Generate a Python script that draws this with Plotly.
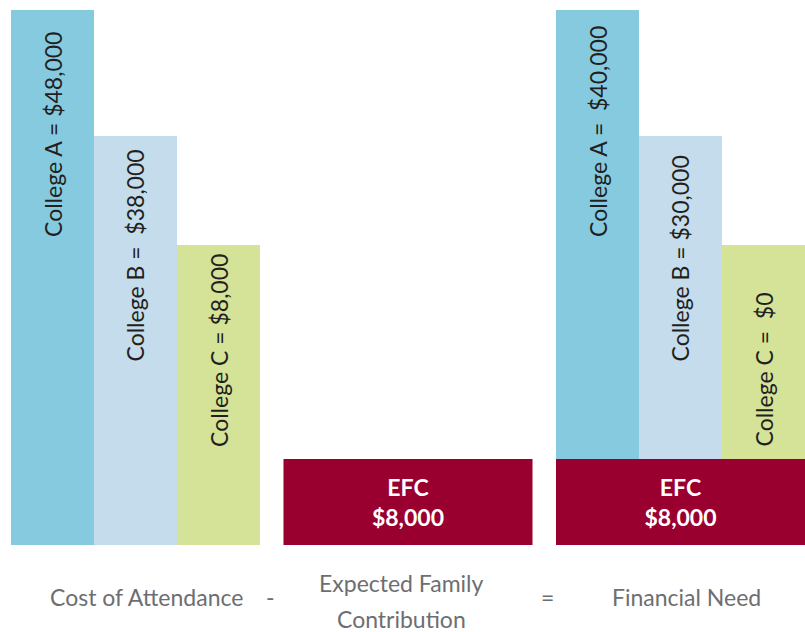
import plotly.graph_objects as go

# ---- data ----
groups = ["Cost of Attendance", "Expected Family<br>Contribution", "Financial Need"]
operators = ["-", "="]
colleges = ["College A", "College B", "College C"]
cost_text = ["College A = $48,000", "College B =\u00a0 $38,000", "College C = $8,000"]
need_text = ["College A =\u00a0 $40,000", "College B = $30,000", "College C =\u00a0 $0"]
efc_text = "EFC<br>$8,000"
# displayed bar heights (drawing units as they appear in the picture)
cost_height = [535, 409, 300]
need_height = [449, 323, 214]
efc_height = 86

# ---- styles ----
college_colors = ["#86CAE0", "#C4DCEB", "#D4E398"]
efc_color = "#990030"
label_drop = [224, 222, 199]          # px from bar top to bottom of rotated label
group_width = 0.9138
bar_w = group_width / 3
text_font = "Lato, 'Open Sans', sans-serif"

fig = go.Figure()

for i, name in enumerate(colleges):
    fig.add_trace(go.Bar(
        name=name,
        x=[0, 1, 2],
        y=[cost_height[i], None, need_height[i]],
        base=[0, 0, efc_height],
        width=bar_w,
        offset=-group_width / 2 + i * bar_w,
        marker=dict(color=college_colors[i], line=dict(width=0)),
        hoverinfo="skip",
    ))

fig.add_trace(go.Bar(
    name="EFC",
    x=[1, 2],
    y=[efc_height, efc_height],
    width=group_width,
    offset=-group_width / 2,
    marker=dict(color=efc_color, line=dict(width=0)),
    text=[efc_text, efc_text],
    textposition="inside",
    insidetextanchor="middle",
    textangle=0,
    textfont=dict(family=text_font, size=23, color="white", weight="bold"),
    hoverinfo="skip",
))

annotations = []
for g, (texts, heights, base) in zip([0, 2], [(cost_text, cost_height, 0), (need_text, need_height, efc_height)]):
    for i in range(3):
        annotations.append(dict(
            x=g - group_width / 2 + (i + 0.5) * bar_w, xref="x",
            y=base + heights[i], yref="y",
            text=texts[i], showarrow=False, textangle=-90,
            xanchor="center", yanchor="bottom", yshift=-label_drop[i] - 5,
            font=dict(family=text_font, size=23, color="#231F20"),
        ))

# bottom captions
caption_shift = [11, -6, 6]
for g, lab in enumerate(groups):
    lines = lab.split("<br>")
    n = len(lines)
    for k, line in enumerate(lines):
        annotations.append(dict(
            x=g, xref="x", y=0, yref="y",
            text=line, showarrow=False,
            xanchor="center", yanchor="middle",
            xshift=caption_shift[g],
            yshift=-52 - (4 if n > 1 else 0) - (k - (n - 1) / 2) * 36,
            font=dict(family=text_font, size=23, color="#6D6E71"),
        ))
for j, op in enumerate(operators):
    annotations.append(dict(
        x=j + 0.5, xref="x", y=0, yref="y",
        text=op, showarrow=False, xanchor="center", yanchor="middle",
        xshift=-1 if j == 0 else 3, yshift=-52,
        font=dict(family=text_font, size=23, color="#6D6E71"),
    ))

fig.update_layout(
    width=805, height=632,
    margin=dict(l=0, r=0, t=0, b=87),
    barmode="overlay",
    showlegend=False,
    paper_bgcolor="white",
    plot_bgcolor="white",
    annotations=annotations,
    xaxis=dict(range=[-0.4972, 2.4569], visible=False, fixedrange=True),
    yaxis=dict(range=[0, 545], visible=False, fixedrange=True),
)

fig.write_html(
    "out.html",
    config={"displayModeBar": False},
    post_script="document.body.style.margin='0';document.body.style.overflow='hidden';",
)
